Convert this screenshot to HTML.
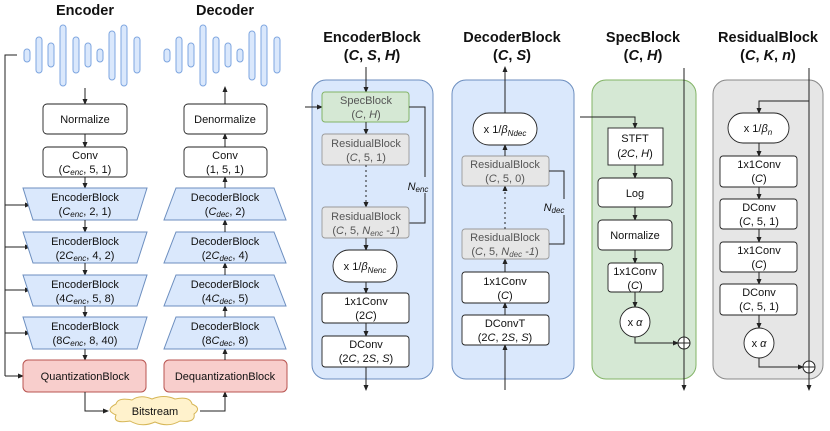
<!DOCTYPE html>
<html><head><meta charset="utf-8"><style>
html,body{margin:0;padding:0;background:#fff}
svg{display:block}
text{font-family:"Liberation Sans",Arial,sans-serif;font-size:11px;fill:#111;text-anchor:middle}
.t{font-size:14.5px;font-weight:bold}
.i{font-style:italic}
.s{font-size:8px;font-style:italic}
.k{stroke:#222;stroke-width:1;fill:none}
.w{fill:#fff;stroke:#222;stroke-width:0.9}
.bar{fill:#dae8fc;stroke:#7ea6e0;stroke-width:1}
.tb{fill:#dae8fc;stroke:#6c8ebf;stroke-width:1}
.gr{fill:#e6e6e6;stroke:#999;stroke-width:0.9}
.gt{fill:#555}
</style></head><body>
<svg width="830" height="431" viewBox="0 0 830 431" xmlns="http://www.w3.org/2000/svg">
<defs>
<marker id="a" markerWidth="6" markerHeight="6" refX="5" refY="3" orient="auto" markerUnits="userSpaceOnUse"><path d="M0,0.5 L6,3 L0,5.5 Z" fill="#222"/></marker>
</defs>

<!-- Encoder -->
<text class="t" x="85" y="15">Encoder</text>
<text class="t" x="225" y="15">Decoder</text>
<g id="wave">
<rect class="bar" x="24" y="49" width="6" height="13" rx="3"/>
<rect class="bar" x="36" y="37" width="6" height="36" rx="3"/>
<rect class="bar" x="48" y="43" width="6" height="24" rx="3"/>
<rect class="bar" x="60" y="25" width="6" height="61" rx="3"/>
<rect class="bar" x="73" y="37" width="6" height="36" rx="3"/>
<rect class="bar" x="85" y="43" width="6" height="24" rx="3"/>
<rect class="bar" x="97" y="49" width="6" height="13" rx="3"/>
<rect class="bar" x="109" y="31" width="6" height="49" rx="3"/>
<rect class="bar" x="121" y="25" width="6" height="61" rx="3"/>
<rect class="bar" x="134" y="37" width="6" height="36" rx="3"/>
</g>
<use href="#wave" x="140"/>

<path class="k" d="M17,55 H5 V376"/>
<path class="k" d="M5,205 H30" marker-end="url(#a)"/>
<path class="k" d="M5,247 H30" marker-end="url(#a)"/>
<path class="k" d="M5,290 H30" marker-end="url(#a)"/>
<path class="k" d="M5,333 H30" marker-end="url(#a)"/>
<path class="k" d="M5,376 H23" marker-end="url(#a)"/>

<path class="k" d="M85,88 V104" marker-end="url(#a)"/>
<rect class="w" x="43" y="104" width="84" height="30" rx="4"/><text x="85" y="123">Normalize</text>
<path class="k" d="M85,134 V147" marker-end="url(#a)"/>
<rect class="w" x="43" y="147" width="84" height="30" rx="4"/>
<text x="85" y="159">Conv</text><text x="85" y="173">(<tspan class="i">C</tspan><tspan class="s" dy="2">enc</tspan><tspan dy="-2">, 5, 1)</tspan></text>
<path class="k" d="M85,177 V188" marker-end="url(#a)"/>

<g>
<path class="tb" d="M23,188 H147 L137,220 H33 Z"/>
<text x="85" y="201">EncoderBlock</text><text x="85" y="215">(<tspan class="i">C</tspan><tspan class="s" dy="2">enc</tspan><tspan dy="-2">, 2, 1)</tspan></text>
</g>
<path class="k" d="M85,220 V232" marker-end="url(#a)"/>
<path class="tb" d="M23,232 H147 L137,263 H33 Z"/>
<text x="85" y="245">EncoderBlock</text><text x="85" y="259">(2<tspan class="i">C</tspan><tspan class="s" dy="2">enc</tspan><tspan dy="-2">, 4, 2)</tspan></text>
<path class="k" d="M85,263 V275" marker-end="url(#a)"/>
<path class="tb" d="M23,275 H147 L137,306 H33 Z"/>
<text x="85" y="288">EncoderBlock</text><text x="85" y="302">(4<tspan class="i">C</tspan><tspan class="s" dy="2">enc</tspan><tspan dy="-2">, 5, 8)</tspan></text>
<path class="k" d="M85,306 V317" marker-end="url(#a)"/>
<path class="tb" d="M23,317 H147 L137,349 H33 Z"/>
<text x="85" y="330">EncoderBlock</text><text x="85" y="344">(8<tspan class="i">C</tspan><tspan class="s" dy="2">enc</tspan><tspan dy="-2">, 8, 40)</tspan></text>
<path class="k" d="M85,349 V360" marker-end="url(#a)"/>
<rect x="23" y="360" width="123" height="32" rx="5" fill="#f8cecc" stroke="#b85450"/>
<text x="85" y="380">QuantizationBlock</text>

<path class="k" d="M85,392 V411 H108" marker-end="url(#a)"/>
<path d="M116,404 Q118,397 132,400 Q140,394 152,399 Q164,394 175,399 Q190,396 192,404 Q202,408 194,414 Q196,423 180,421 Q168,428 155,422 Q142,428 130,421 Q112,424 116,415 Q104,410 116,404 Z" fill="#fff2cc" stroke="#d6b656"/>
<text x="155" y="415">Bitstream</text>
<path class="k" d="M200,411 H225 V392" marker-end="url(#a)"/>

<!-- Decoder -->
<rect x="164" y="360" width="123" height="32" rx="5" fill="#f8cecc" stroke="#b85450"/>
<text x="225" y="380">DequantizationBlock</text>
<path class="k" d="M225,360 V349" marker-end="url(#a)"/>
<path class="tb" d="M176,317 H274 L286,349 H164 Z"/>
<text x="225" y="330">DecoderBlock</text><text x="225" y="344">(8<tspan class="i">C</tspan><tspan class="s" dy="2">dec</tspan><tspan dy="-2">, 8)</tspan></text>
<path class="k" d="M225,317 V306" marker-end="url(#a)"/>
<path class="tb" d="M176,275 H274 L286,306 H164 Z"/>
<text x="225" y="288">DecoderBlock</text><text x="225" y="302">(4<tspan class="i">C</tspan><tspan class="s" dy="2">dec</tspan><tspan dy="-2">, 5)</tspan></text>
<path class="k" d="M225,275 V263" marker-end="url(#a)"/>
<path class="tb" d="M176,232 H274 L286,263 H164 Z"/>
<text x="225" y="245">DecoderBlock</text><text x="225" y="259">(2<tspan class="i">C</tspan><tspan class="s" dy="2">dec</tspan><tspan dy="-2">, 4)</tspan></text>
<path class="k" d="M225,232 V220" marker-end="url(#a)"/>
<path class="tb" d="M176,188 H274 L286,220 H164 Z"/>
<text x="225" y="201">DecoderBlock</text><text x="225" y="215">(<tspan class="i">C</tspan><tspan class="s" dy="2">dec</tspan><tspan dy="-2">, 2)</tspan></text>
<path class="k" d="M225,188 V177" marker-end="url(#a)"/>
<rect class="w" x="184" y="147" width="83" height="30" rx="4"/>
<text x="225" y="159">Conv</text><text x="225" y="173">(1, 5, 1)</text>
<path class="k" d="M225,147 V134" marker-end="url(#a)"/>
<rect class="w" x="184" y="104" width="83" height="30" rx="4"/><text x="225" y="123">Denormalize</text>
<path class="k" d="M225,104 V87" marker-end="url(#a)"/>

<!-- EncoderBlock panel -->
<text class="t" x="372" y="42">EncoderBlock</text>
<text class="t" x="372" y="60">(<tspan class="i">C</tspan>, <tspan class="i">S</tspan>, <tspan class="i">H</tspan>)</text>
<rect x="312" y="80" width="121" height="299" rx="14" fill="#dae8fc" stroke="#6c8ebf"/>
<path class="k" d="M366,67 V92" marker-end="url(#a)"/>
<path class="k" d="M305,107 H322" marker-end="url(#a)"/>
<rect x="322" y="92" width="87" height="30" rx="3" fill="#d5e8d4" stroke="#82b366"/>
<text x="366" y="104" class="gt">SpecBlock</text><text x="366" y="118" class="gt">(<tspan class="i">C</tspan>, <tspan class="i">H</tspan>)</text>
<path class="k" d="M409,107 H425 V223 H409"/>
<rect x="408" y="177" width="20" height="16" fill="#dae8fc"/>
<text x="418" y="190" class="i">N<tspan class="s" dy="2">enc</tspan></text>
<path class="k" d="M366,122 V134" marker-end="url(#a)"/>
<rect class="gr" x="322" y="134" width="87" height="31" rx="3"/>
<text x="366" y="147" class="gt">ResidualBlock</text><text x="366" y="161" class="gt">(<tspan class="i">C</tspan>, 5, 1)</text>
<path class="k" d="M366,165 V207" stroke-dasharray="2,3" marker-end="url(#a)"/>
<rect class="gr" x="322" y="207" width="87" height="31" rx="3"/>
<text x="366" y="220" class="gt">ResidualBlock</text><text x="366" y="234" class="gt">(<tspan class="i">C</tspan>, 5, <tspan class="i">N</tspan><tspan class="s" dy="2">enc</tspan><tspan dy="-2"> -</tspan><tspan class="i">1</tspan>)</text>
<path class="k" d="M366,238 V250" marker-end="url(#a)"/>
<rect class="w" x="333" y="250" width="64" height="32" rx="16"/>
<text x="365" y="270">x 1/<tspan class="i">β</tspan><tspan class="s" dy="3">Nenc</tspan></text>
<path class="k" d="M366,282 V293" marker-end="url(#a)"/>
<rect class="w" x="322" y="293" width="87" height="30" rx="3"/>
<text x="366" y="305">1x1Conv</text><text x="366" y="319">(2<tspan class="i">C</tspan>)</text>
<path class="k" d="M366,323 V336" marker-end="url(#a)"/>
<rect class="w" x="322" y="336" width="87" height="31" rx="3"/>
<text x="366" y="348">DConv</text><text x="366" y="362">(2<tspan class="i">C</tspan>, 2<tspan class="i">S</tspan>, <tspan class="i">S</tspan>)</text>
<path class="k" d="M366,367 V390" marker-end="url(#a)"/>

<!-- DecoderBlock panel -->
<text class="t" x="512" y="42">DecoderBlock</text>
<text class="t" x="512" y="60">(<tspan class="i">C</tspan>, <tspan class="i">S</tspan>)</text>
<rect x="452" y="80" width="122" height="299" rx="14" fill="#dae8fc" stroke="#6c8ebf"/>
<path class="k" d="M505,390 V345" marker-end="url(#a)"/>
<rect class="w" x="462" y="315" width="87" height="30" rx="3"/>
<text x="505" y="327">DConvT</text><text x="505" y="341">(2<tspan class="i">C</tspan>, 2<tspan class="i">S</tspan>, <tspan class="i">S</tspan>)</text>
<path class="k" d="M505,315 V303" marker-end="url(#a)"/>
<rect class="w" x="462" y="272" width="87" height="31" rx="3"/>
<text x="505" y="285">1x1Conv</text><text x="505" y="299">(<tspan class="i">C</tspan>)</text>
<path class="k" d="M505,272 V259" marker-end="url(#a)"/>
<rect class="gr" x="462" y="229" width="87" height="30" rx="3"/>
<text x="505" y="241" class="gt">ResidualBlock</text><text x="505" y="255" class="gt">(<tspan class="i">C</tspan>, 5, <tspan class="i">N</tspan><tspan class="s" dy="2">dec</tspan><tspan dy="-2"> -</tspan><tspan class="i">1</tspan>)</text>
<path class="k" d="M505,229 V186" stroke-dasharray="2,3" marker-end="url(#a)"/>
<rect class="gr" x="462" y="156" width="87" height="30" rx="3"/>
<text x="505" y="168" class="gt">ResidualBlock</text><text x="505" y="182" class="gt">(<tspan class="i">C</tspan>, 5, 0)</text>
<path class="k" d="M549,171 H564 V244 H549"/>
<rect x="544" y="199" width="22" height="16" fill="#dae8fc"/>
<text x="554" y="211" class="i">N<tspan class="s" dy="2">dec</tspan></text>
<path class="k" d="M505,156 V145" marker-end="url(#a)"/>
<rect class="w" x="473" y="113" width="64" height="32" rx="16"/>
<text x="505" y="133">x 1/<tspan class="i">β</tspan><tspan class="s" dy="3">Ndec</tspan></text>
<path class="k" d="M505,113 V67" marker-end="url(#a)"/>

<!-- SpecBlock panel -->
<text class="t" x="643" y="42">SpecBlock</text>
<text class="t" x="643" y="60">(<tspan class="i">C</tspan>, <tspan class="i">H</tspan>)</text>
<rect x="592" y="80" width="104" height="299" rx="14" fill="#d5e8d4" stroke="#82b366"/>
<path class="k" d="M684,68 V390" marker-end="url(#a)"/>
<path class="k" d="M580,117 H635 V128" marker-end="url(#a)"/>
<rect class="w" x="608" y="128" width="55" height="37"/>
<text x="635" y="142">STFT</text><text x="635" y="157">(<tspan class="i">2C</tspan>, <tspan class="i">H</tspan>)</text>
<path class="k" d="M635,165 V178" marker-end="url(#a)"/>
<rect class="w" x="598" y="178" width="74" height="29" rx="4"/><text x="635" y="197">Log</text>
<path class="k" d="M635,207 V220" marker-end="url(#a)"/>
<rect class="w" x="598" y="220" width="74" height="30" rx="4"/><text x="635" y="239">Normalize</text>
<path class="k" d="M635,250 V263" marker-end="url(#a)"/>
<rect class="w" x="608" y="263" width="55" height="29" rx="3"/>
<text x="635" y="275">1x1Conv</text><text x="635" y="289">(<tspan class="i">C</tspan>)</text>
<path class="k" d="M635,292 V307" marker-end="url(#a)"/>
<circle class="w" cx="635" cy="322" r="15"/><text x="635" y="326">x <tspan class="i">α</tspan></text>
<path class="k" d="M635,337 V343 H678" marker-end="url(#a)"/>
<circle cx="684" cy="343" r="6" fill="#fff" stroke="#222"/>
<path class="k" d="M678,343 H690 M684,337 V349"/>

<!-- ResidualBlock panel -->
<text class="t" x="768" y="42">ResidualBlock</text>
<text class="t" x="768" y="60">(<tspan class="i">C</tspan>, <tspan class="i">K</tspan>, <tspan class="i">n</tspan>)</text>
<rect x="713" y="80" width="110" height="299" rx="14" fill="#e6e6e6" stroke="#888"/>
<path class="k" d="M809,68 V390" marker-end="url(#a)"/>
<path class="k" d="M809,101 H759 V113" marker-end="url(#a)"/>
<rect class="w" x="728" y="113" width="61" height="30" rx="15"/>
<text x="758" y="132">x 1/<tspan class="i">β</tspan><tspan class="s" dy="3">n</tspan></text>
<path class="k" d="M759,143 V156" marker-end="url(#a)"/>
<rect class="w" x="720" y="156" width="77" height="31" rx="3"/>
<text x="759" y="168">1x1Conv</text><text x="759" y="182">(<tspan class="i">C</tspan>)</text>
<path class="k" d="M759,187 V199" marker-end="url(#a)"/>
<rect class="w" x="720" y="199" width="77" height="30" rx="3"/>
<text x="759" y="211">DConv</text><text x="759" y="225">(<tspan class="i">C</tspan>, 5, 1)</text>
<path class="k" d="M759,229 V242" marker-end="url(#a)"/>
<rect class="w" x="720" y="242" width="77" height="30" rx="3"/>
<text x="759" y="254">1x1Conv</text><text x="759" y="268">(<tspan class="i">C</tspan>)</text>
<path class="k" d="M759,272 V284" marker-end="url(#a)"/>
<rect class="w" x="720" y="284" width="77" height="31" rx="3"/>
<text x="759" y="296">DConv</text><text x="759" y="310">(<tspan class="i">C</tspan>, 5, 1)</text>
<path class="k" d="M759,315 V328" marker-end="url(#a)"/>
<circle class="w" cx="759" cy="343" r="15"/><text x="759" y="347">x <tspan class="i">α</tspan></text>
<path class="k" d="M759,358 V367 H803" marker-end="url(#a)"/>
<circle cx="809" cy="367" r="6" fill="#fff" stroke="#222"/>
<path class="k" d="M803,367 H815 M809,361 V373"/>
</svg>
</body></html>
